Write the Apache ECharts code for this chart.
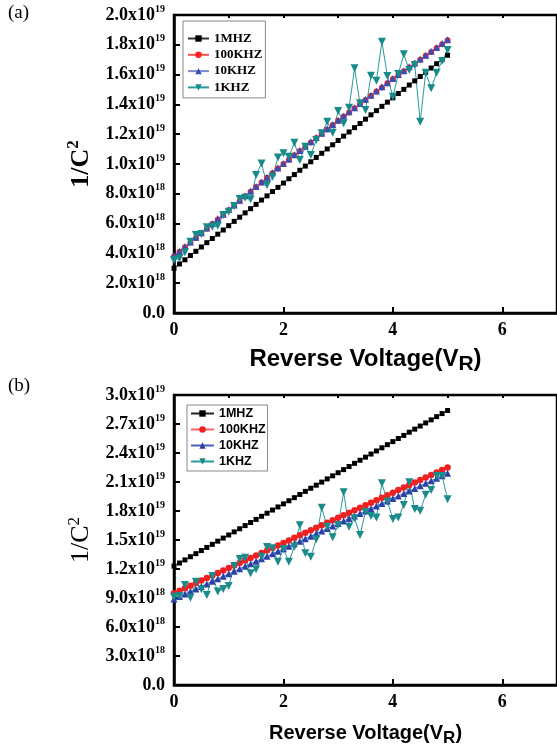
<!DOCTYPE html>
<html><head><meta charset="utf-8">
<script src="https://cdn.jsdelivr.net/npm/echarts@6/dist/echarts.min.js"></script>
<style>html,body{margin:0;padding:0;background:#fff}#c{width:557px;height:754px}</style>
</head><body><div id="c"></div>
<script>
// Reverse voltage (V)
const volts = [0.0,0.1,0.2,0.3,0.4,0.5,0.6,0.7,0.8,0.9,1.0,1.1,1.2,1.3,1.4,1.5,1.6,1.7,1.8,1.9,2.0,2.1,2.2,2.3,2.4,2.5,2.6,2.7,2.8,2.9,3.0,3.1,3.2,3.3,3.4,3.5,3.6,3.7,3.8,3.9,4.0,4.1,4.2,4.3,4.4,4.5,4.6,4.7,4.8,4.9,5.0];
const seriesNames = ['1MHZ','100KHZ','10KHZ','1KHZ'];
const xTicks = ['0','2','4','6'];
// 1/C^2 values, in units of 1e18
// panel (a)
const a_1MHZ = [3.00,3.29,3.57,3.86,4.14,4.43,4.72,5.00,5.29,5.57,5.86,6.15,6.43,6.72,7.00,7.29,7.58,7.86,8.15,8.43,8.72,9.01,9.29,9.58,9.86,10.15,10.44,10.72,11.01,11.29,11.58,11.87,12.15,12.44,12.72,13.01,13.30,13.58,13.87,14.15,14.44,14.73,15.01,15.30,15.58,15.87,16.16,16.44,16.73,17.01,17.30];
const a_100KHZ = [3.80,4.11,4.42,4.73,5.04,5.35,5.66,5.97,6.28,6.59,6.90,7.21,7.52,7.83,8.14,8.45,8.76,9.07,9.38,9.69,10.00,10.29,10.58,10.87,11.16,11.45,11.74,12.03,12.32,12.61,12.90,13.18,13.46,13.74,14.02,14.30,14.58,14.86,15.14,15.42,15.70,15.96,16.22,16.48,16.74,17.00,17.26,17.52,17.78,18.04,18.30];
const a_10KHZ = [3.85,4.15,4.46,4.77,5.08,5.39,5.70,6.01,6.32,6.63,6.94,7.25,7.56,7.87,8.18,8.49,8.80,9.11,9.42,9.73,10.04,10.33,10.62,10.91,11.20,11.49,11.78,12.07,12.36,12.65,12.94,13.22,13.50,13.78,14.06,14.34,14.62,14.90,15.18,15.46,15.74,16.00,16.26,16.52,16.78,17.04,17.30,17.56,17.82,18.08,18.34];
const a_1KHZ = [3.56,3.67,4.07,4.79,5.23,5.30,5.75,5.79,5.86,6.58,6.80,7.18,7.65,7.74,7.63,9.26,10.04,8.59,9.15,10.43,10.72,10.49,11.43,10.27,11.16,10.60,11.61,12.06,12.84,12.10,13.56,12.73,13.78,16.42,14.07,13.62,15.93,15.59,18.21,15.91,14.52,16.04,17.36,16.31,16.64,12.84,16.13,15.08,16.13,16.91,17.65];
// panel (b)
const b_1MHZ = [12.30,12.62,12.94,13.27,13.59,13.91,14.23,14.55,14.88,15.20,15.52,15.84,16.16,16.49,16.81,17.13,17.45,17.77,18.10,18.42,18.74,19.06,19.38,19.71,20.03,20.35,20.67,20.99,21.32,21.64,21.96,22.28,22.60,22.93,23.25,23.57,23.89,24.21,24.54,24.86,25.18,25.50,25.82,26.15,26.47,26.79,27.11,27.43,27.76,28.08,28.40];
const b_100KHZ = [9.50,9.76,10.02,10.28,10.54,10.80,11.06,11.32,11.58,11.84,12.10,12.36,12.62,12.88,13.14,13.40,13.66,13.92,14.18,14.44,14.70,14.96,15.22,15.48,15.74,16.00,16.26,16.52,16.78,17.04,17.30,17.56,17.82,18.08,18.34,18.60,18.86,19.12,19.38,19.64,19.90,20.16,20.42,20.68,20.94,21.20,21.46,21.72,21.98,22.24,22.50];
const b_10KHZ = [8.90,9.16,9.42,9.68,9.94,10.20,10.46,10.72,10.98,11.24,11.50,11.76,12.02,12.28,12.54,12.80,13.06,13.32,13.58,13.84,14.10,14.36,14.62,14.88,15.14,15.40,15.66,15.92,16.18,16.44,16.70,16.96,17.22,17.48,17.74,18.00,18.26,18.52,18.78,19.04,19.30,19.56,19.82,20.08,20.34,20.60,20.86,21.12,21.38,21.64,21.90];
const b_1KHZ = [9.14,9.20,10.34,9.03,10.69,9.90,9.31,11.28,9.66,9.93,10.24,12.31,13.03,13.17,11.55,11.97,13.28,14.28,14.14,12.76,14.07,12.76,14.31,16.52,13.62,13.28,15.07,18.34,16.38,15.28,16.55,19.93,16.38,17.24,15.52,17.93,17.48,17.34,20.86,18.97,17.17,17.34,18.62,20.97,18.21,18.03,19.69,20.17,21.62,21.62,19.21];

const pairs = arr => arr.map((v, i) => [volts[i], v]);
const SERIF = 'Liberation Serif, Times New Roman, serif';
const SANS = 'Liberation Sans, Arial, sans-serif';
const DOWN = 'path://M0,0L10,0L5,9Z';

function yFmt(v) {
  if (v === 0) return '{m|0.0}';
  if (v < 10) return '{m|' + v.toFixed(1) + 'x10}{s|18}';
  return '{m|' + (v / 10).toFixed(1) + 'x10}{s|19}';
}
const yRich = {
  m: {fontFamily: SERIF, fontWeight: 'bold', fontSize: 18, color: '#000'},
  s: {fontFamily: SERIF, fontWeight: 'bold', fontSize: 10, color: '#000', padding: [0, 0, 12, 0]}
};

function mkX(gridIndex, main, titleSize, gap) {
  return {
    type: 'value', gridIndex: gridIndex, min: 0, max: 7, interval: main ? 2 : 1,
    splitLine: {show: false},
    axisLine: {show: main, onZero: false, lineStyle: {color: '#000', width: 2.5}},
    axisTick: {show: true, inside: true, length: main ? 6 : 3, lineStyle: {color: '#000', width: 2}},
    axisLabel: main ? {
      show: true, showMaxLabel: false, margin: 8, color: '#000',
      fontFamily: SERIF, fontWeight: 'bold', fontSize: 18,
      formatter: v => xTicks.indexOf(String(v)) >= 0 ? String(v) : ''
    } : {show: false},
    name: main ? '{t|Reverse Voltage(V}{r|R}{t|)}' : '',
    nameLocation: 'middle', nameGap: gap || 32,
    nameTextStyle: {
      rich: {
        t: {fontFamily: SANS, fontWeight: 'bold', fontSize: titleSize || 20, color: '#000'},
        r: {fontFamily: SANS, fontWeight: 'bold', fontSize: (titleSize || 20) - 3, color: '#000', padding: [11, 0, 0, 0]}
      }
    }
  };
}
function mkY(gridIndex, max, interval, bold) {
  return {
    type: 'value', gridIndex: gridIndex, min: 0, max: max, interval: interval,
    splitLine: {show: false},
    axisLine: {show: true, lineStyle: {color: '#000', width: 2.5}},
    axisTick: {show: true, inside: true, length: 6, lineStyle: {color: '#000', width: 2}},
    axisLabel: {margin: 9, formatter: yFmt, rich: yRich},
    name: '{n|1/C}{s|2}', nameLocation: 'middle', nameGap: 76, nameRotate: 90,
    nameTextStyle: {
      rich: {
        n: {fontFamily: SERIF, fontWeight: bold ? 'bold' : 'normal', fontSize: 26, color: '#000'},
        s: {fontFamily: SERIF, fontWeight: bold ? 'bold' : 'normal', fontSize: 17, color: '#000', padding: [0, 0, 15, 0]}
      }
    }
  };
}

const styleA = {
  '1MHZ': {sym: 'rect', size: 5, c: '#000', lc: '#333'},
  '100KHZ': {sym: 'circle', size: 6, c: '#ff2020', lc: '#ff5050'},
  '10KHZ': {sym: 'triangle', size: 7, c: '#3a4db5', lc: '#7d8ad0'},
  '1KHZ': {sym: DOWN, size: 8, c: '#178a8a', lc: '#2a9a9a'}
};
const styleB = {
  '1MHZ': {sym: 'rect', size: 5, c: '#000', lc: '#222'},
  '100KHZ': {sym: 'circle', size: 6.5, c: '#f02020', lc: '#ff6060'},
  '10KHZ': {sym: 'triangle', size: 7, c: '#2b40a8', lc: '#4a5cb8'},
  '1KHZ': {sym: DOWN, size: 8, c: '#1a8a8a', lc: '#2a9a9a'}
};
function mkSeries(name, label, data, st, idx) {
  return {
    name: label, type: 'line', xAxisIndex: idx * 2, yAxisIndex: idx,
    data: pairs(data), symbol: st.sym, symbolSize: st.size, showSymbol: true,
    animation: false,
    itemStyle: {color: st.c}, lineStyle: {color: st.lc, width: 1}
  };
}
const dataA = [a_1MHZ, a_100KHZ, a_10KHZ, a_1KHZ];
const dataB = [b_1MHZ, b_100KHZ, b_10KHZ, b_1KHZ];
const series = [];
seriesNames.forEach((n, i) => series.push(mkSeries(n, n, dataA[i], styleA[n], 0)));
seriesNames.forEach((n, i) => series.push(mkSeries(n, n + ' (b)', dataB[i], styleB[n], 1)));

const chart = echarts.init(document.getElementById('c'), null, {renderer: 'canvas'});
chart.setOption({
  backgroundColor: '#fff',
  animation: false,
  grid: [
    {left: 174, top: 15, width: 385, height: 298, show: true, borderColor: '#000', borderWidth: 2.5, backgroundColor: 'transparent'},
    {left: 174, top: 395, width: 385, height: 290, show: true, borderColor: '#000', borderWidth: 2.5, backgroundColor: 'transparent'}
  ],
  xAxis: [mkX(0, true, 24, 30), mkX(0, false), mkX(1, true, 20, 34), mkX(1, false)],
  yAxis: [mkY(0, 20, 2, true), mkY(1, 30, 3, false)],
  legend: [
    {
      data: seriesNames, orient: 'vertical', left: 183, top: 21, selectedMode: false,
      borderColor: '#888', borderWidth: 1, padding: [11, 3, 4, 4],
      itemWidth: 21, itemHeight: 8, itemGap: 3.3,
      textStyle: {fontFamily: SERIF, fontWeight: 'bold', fontSize: 13, color: '#000'}
    },
    {
      data: seriesNames.map(n => n + ' (b)'), orient: 'vertical', left: 187, top: 405, selectedMode: false,
      borderColor: '#888', borderWidth: 1, padding: [2, 2, 3, 3],
      itemWidth: 23, itemHeight: 8, itemGap: 3,
      formatter: n => n.replace(' (b)', ''),
      textStyle: {fontFamily: SANS, fontWeight: 'bold', fontSize: 12.5, color: '#000'}
    }
  ],
  graphic: [
    {type: 'text', left: 8, top: 4, style: {text: '(a)', font: '19px ' + SERIF, fill: '#000'}},
    {type: 'text', left: 8, top: 377, style: {text: '(b)', font: '19px ' + SERIF, fill: '#000'}}
  ],
  series: series
});
</script>
</body></html>
